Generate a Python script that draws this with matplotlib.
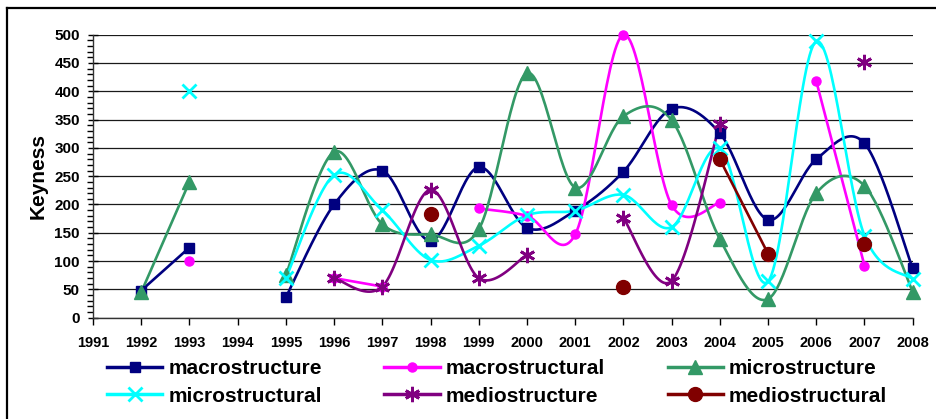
import numpy as np
import matplotlib
matplotlib.use('Agg')
import matplotlib.pyplot as plt
from matplotlib.lines import Line2D

plt.rcParams['font.family'] = ['Liberation Sans', 'DejaVu Sans']
plt.rcParams['font.weight'] = 'bold'

nan = np.nan
years = list(range(1991, 2009))

# Keyness per year (1991..2008), nan = no value
macrostructure = [nan, 48, 124, nan, 36, 200, 260, 136, 266, 159, 189, 258, 369, 326, 173, 280, 308, 87]
macrostructural = [nan, nan, 100, nan, nan, 70, 55, nan, 193, 180, 147, 500, 199, 203, nan, 418, 92, nan]
microstructure = [nan, 45, 240, nan, 75, 293, 165, 147, 156, 432, 230, 356, 349, 139, 33, 220, 233, 46]
microstructural = [nan, nan, 400, nan, 70, 252, 190, 102, 127, 181, 189, 217, 160, 299, 64, 488, 145, 68]
mediostructure = [nan, nan, nan, nan, nan, 70, 55, 226, 70, 111, nan, 176, 65, 342, nan, nan, 452, nan]
mediostructural = [nan, nan, nan, nan, nan, nan, nan, 183, nan, nan, nan, 55, nan, 280, 113, nan, 130, nan]

series_names = ['macrostructure', 'macrostructural', 'microstructure',
                'microstructural', 'mediostructure', 'mediostructural']
series_vals = [macrostructure, macrostructural, microstructure,
               microstructural, mediostructure, mediostructural]
colors = ['#000080', '#FF00FF', '#339966', '#00FFFF', '#800080', '#800000']
markers = ['s', 'o', '^', 'x', (6, 2, 0), 'o']
msizes = [6.5, 6.5, 10, 10, 11, 10]


def smooth(xs, ys, n=30):
    # Excel-like smoothed line (Catmull-Rom as cubic Bezier)
    pts = np.column_stack([xs, ys]).astype(float)
    out = [pts[0]]
    t = np.linspace(0, 1, n)[1:, None]
    for i in range(len(pts) - 1):
        p0 = pts[i - 1] if i > 0 else pts[i]
        p1, p2 = pts[i], pts[i + 1]
        p3 = pts[i + 2] if i + 2 < len(pts) else pts[i + 1]
        c1 = p1 + (p2 - p0) / 6
        c2 = p2 - (p3 - p1) / 6
        seg = ((1 - t) ** 3) * p1 + 3 * ((1 - t) ** 2) * t * c1 + 3 * (1 - t) * t ** 2 * c2 + t ** 3 * p2
        out.extend(seg)
    out = np.array(out)
    return out[:, 0], out[:, 1]


fig = plt.figure(figsize=(9.36, 4.19), dpi=100)
ax = fig.add_axes([93 / 936, 1 - 317.7 / 419, (912.7 - 93) / 936, (317.7 - 34.7) / 419])

handles = []
for name, vals, c, m, ms in zip(series_names, series_vals, colors, markers, msizes):
    x = np.array(years, dtype=float)
    y = np.array(vals, dtype=float)
    ok = ~np.isnan(y)
    # split into runs of consecutive values
    runs = []
    cur = []
    for xi, yi, good in zip(x, y, ok):
        if good:
            cur.append((xi, yi))
        elif cur:
            runs.append(cur)
            cur = []
    if cur:
        runs.append(cur)
    for r in runs:
        if len(r) > 1:
            rx, ry = zip(*r)
            sx, sy = smooth(rx, ry)
            ax.plot(sx, sy, color=c, lw=1.9, zorder=3, clip_on=False)
    mew = 2 if m in ('x', (6, 2, 0)) else 1
    ax.plot(x[ok], y[ok], linestyle='none', marker=m, ms=ms, color=c,
            mec=c, mew=mew, zorder=4, clip_on=False)
    handles.append(Line2D([], [], color=c, lw=2.5, marker=m, ms=ms, mec=c, mew=mew))

ax.set_xlim(1991, 2008)
ax.set_ylim(0, 500)
ax.set_xticks(years)
ax.set_xticklabels([str(v) for v in years], fontsize=10.5, fontweight='bold')
ax.set_yticks(range(0, 501, 50))
ax.set_yticks(range(0, 501, 10), minor=True)
ax.tick_params(axis='y', labelsize=11, which='major', direction='inout', length=7, width=1, pad=6)
ax.tick_params(axis='y', which='minor', direction='out', length=4, width=1)
ax.tick_params(axis='x', direction='out', length=5, width=1, pad=8)
ax.yaxis.grid(True, color='#1a1a1a', lw=0.9)
ax.set_axisbelow(True)
for s in ('top', 'right'):
    ax.spines[s].set_visible(False)
for s in ('left', 'bottom'):
    ax.spines[s].set_color('#333333')
    ax.spines[s].set_linewidth(1)
ax.set_ylabel('Keyness', fontsize=15, fontweight='bold', labelpad=5)

# legend order column-major for 3 columns
order = [0, 3, 1, 4, 2, 5]
fig.legend([handles[i] for i in order], [series_names[i] for i in order],
           ncol=3, loc='upper left', bbox_to_anchor=(107 / 936, 1 - 359 / 419),
           frameon=False, borderpad=0, borderaxespad=0,
           prop={'size': 15, 'weight': 'bold'}, handlelength=2.65,
           handletextpad=0.3, columnspacing=3.0, labelspacing=0.42)

# chart area frame (left and top edges visible)
fig.add_artist(Line2D([7.5 / 936, 7.5 / 936], [0, 1 - 8.5 / 419], color='black', lw=1.6,
                      transform=fig.transFigure))
fig.add_artist(Line2D([7.5 / 936, 1], [1 - 8.5 / 419, 1 - 8.5 / 419], color='black', lw=1.6,
                      transform=fig.transFigure))

fig.savefig('out.png', dpi=100)
